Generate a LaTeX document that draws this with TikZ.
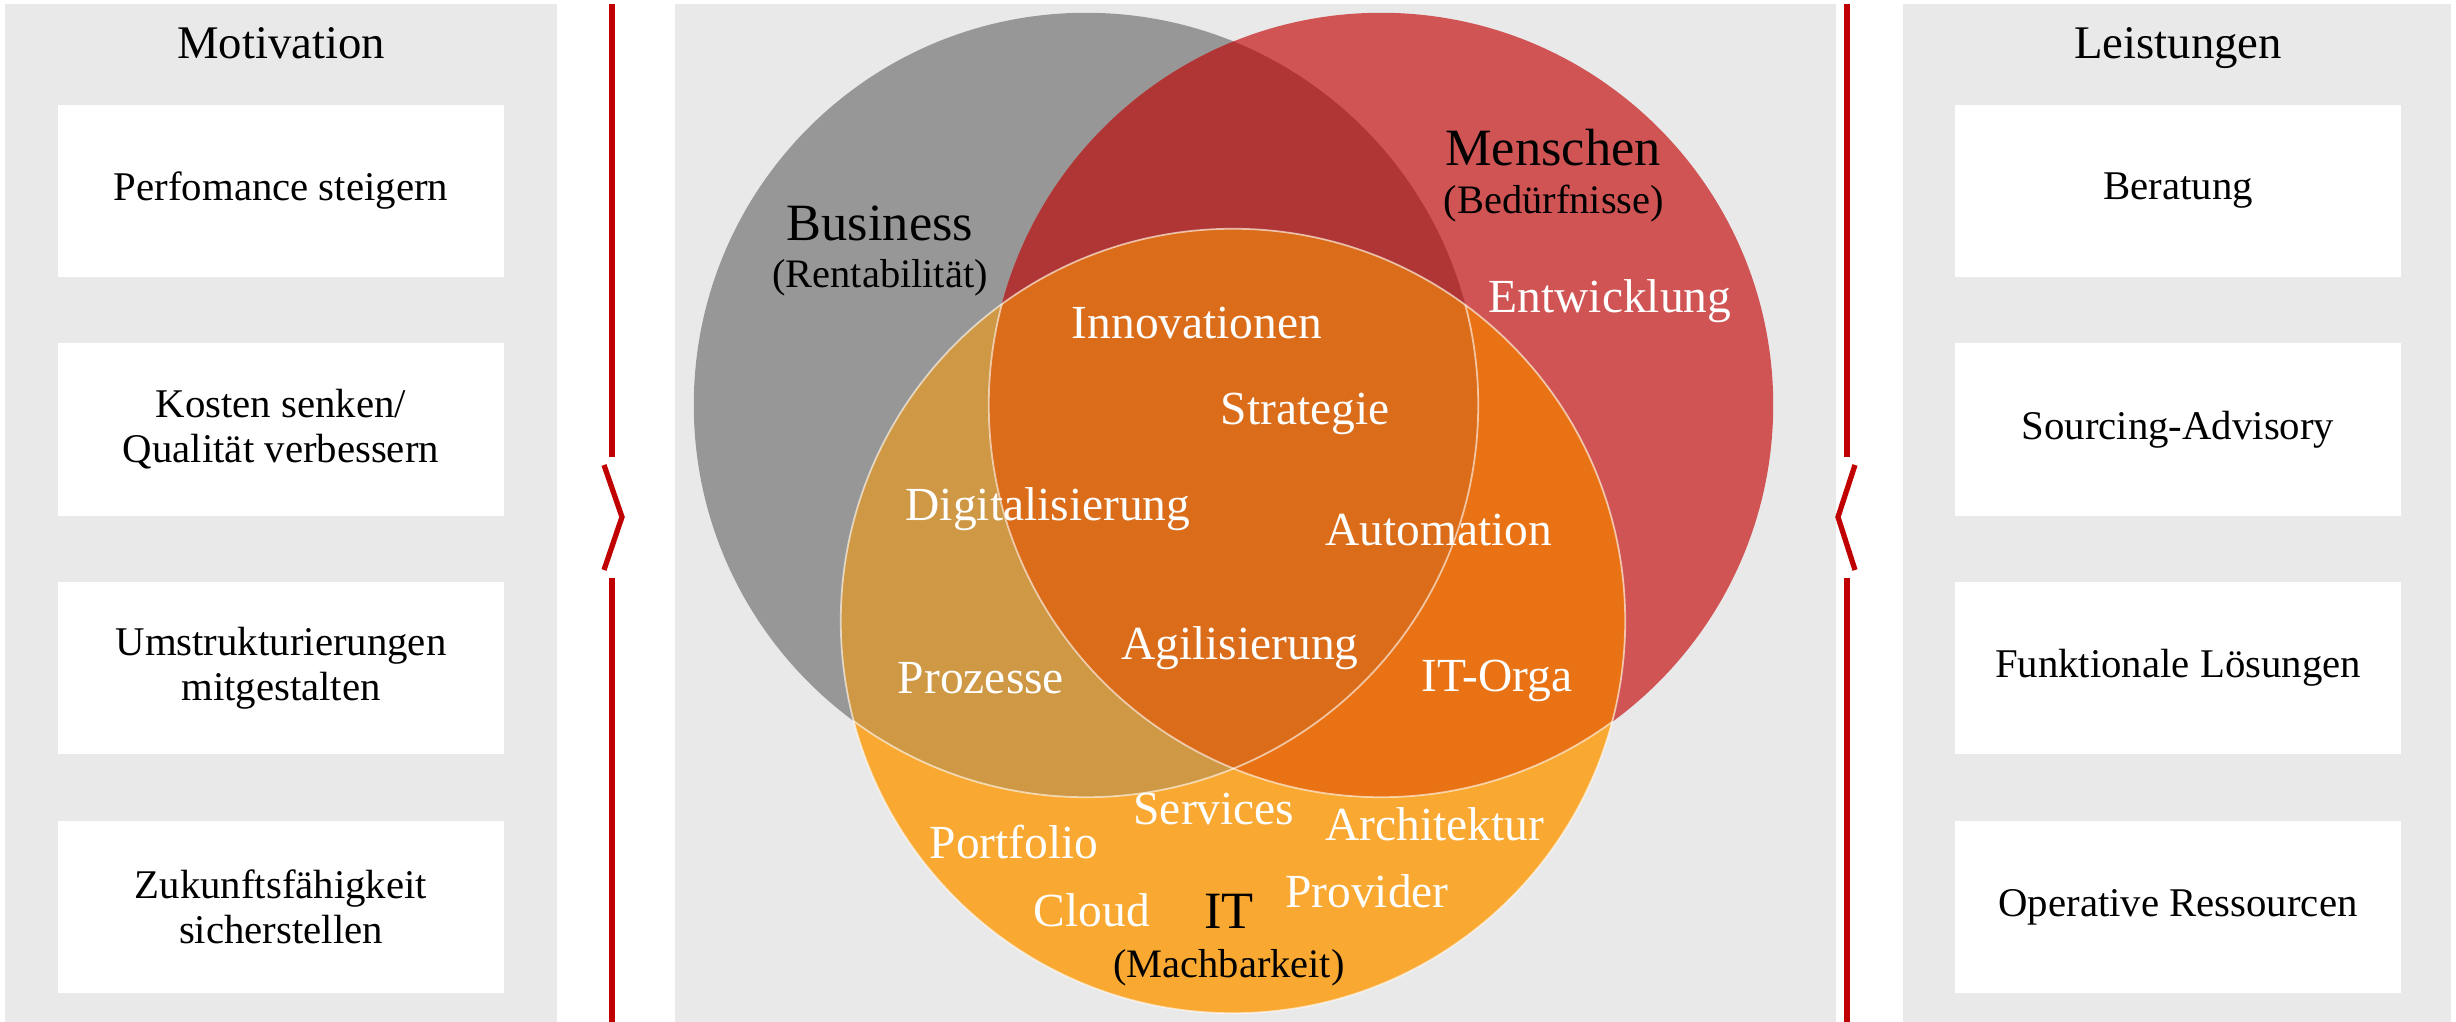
\documentclass[tikz,border=0pt]{standalone}
\usepackage{fontspec}
\setmainfont{Liberation Serif}
\usepackage{tikz}

\definecolor{panelgray}{HTML}{E9E9E9}
\definecolor{sepred}{HTML}{C00000}
\definecolor{bizgray}{HTML}{979797}
\definecolor{menred}{HTML}{D05454}
\definecolor{itorange}{HTML}{F9A932}
\definecolor{bizmen}{HTML}{B03535}
\definecolor{bizit}{HTML}{CF9845}
\definecolor{menit}{HTML}{E97314}
\definecolor{allthree}{HTML}{DA6C1A}

\newcommand\fntHead{\fontsize{13.3}{15}\selectfont}
\newcommand\fntBox{\fontsize{11.6}{12.8}\selectfont}
\newcommand\fntTitle{\fontsize{14.9}{17}\selectfont}
\newcommand\fntSub{\fontsize{11.5}{13}\selectfont}
\newcommand\fntLabel{\fontsize{13.5}{15}\selectfont}

\tikzset{
  paneltitle/.style={anchor=base, font=\fntHead},
  infobox/.style={fill=white, minimum width=4.46cm, minimum height=1.72cm,
    inner sep=0pt, align=center, font=\fntBox},
  sepline/.style={draw=sepred, line width=1.7pt},
  septip/.style={draw=sepred, line width=1.5pt, line join=miter},
  circtitle/.style={anchor=base, font=\fntTitle, text=black},
  circsub/.style={anchor=base, font=\fntSub, text=black},
  circlabel/.style={anchor=base, font=\fntLabel, text=white},
}

\def\cirBiz{(1086,405) circle [radius=3.92cm]}
\def\cirMen{(1381,405) circle [radius=3.92cm]}
\def\cirIT{(1233,621) circle [radius=3.92cm]}

\begin{document}
\begin{tikzpicture}[x=0.01cm, y=-0.01cm]
\useasboundingbox (0,0) rectangle (2456,1022);

% grey panels
\fill[panelgray] (5,4) rectangle (557,1022);
\fill[panelgray] (675,4) rectangle (1836,1022);
\fill[panelgray] (1903,4) rectangle (2451,1022);

% left panel: Motivation
\node[paneltitle] (motiv) at (281,59) {Motivation};
\node[infobox] (perf) at (281,191) {Perfomance steigern};
\node[infobox] (kost) at (281,429.5) {Kosten senken/\\Qualität verbessern};
\node[infobox] (umst) at (281,668) {Umstrukturierungen\\mitgestalten};
\node[infobox] (zuk) at (281,907) {Zukunftsfähigkeit\\sicherstellen};

% right panel: Leistungen
\node[paneltitle] (leist) at (2178,59) {Leistungen};
\node[infobox] (ber) at (2178,191) {Beratung};
\node[infobox] (sour) at (2178,429.5) {Sourcing-Advisory};
\node[infobox] (funk) at (2178,668) {Funktionale Lösungen};
\node[infobox] (oper) at (2178,907) {Operative Ressourcen};

% red separators with chevrons
\draw[sepline] (612,4) -- (612,457);
\draw[sepline] (612,578) -- (612,1022);
\draw[septip] (604,465) -- (622,517) -- (604,570);
\draw[sepline] (1847,4) -- (1847,457);
\draw[sepline] (1847,578) -- (1847,1022);
\draw[septip] (1855,465) -- (1838,517) -- (1855,570);

% Venn circles, each region filled on its own
\fill[bizgray] \cirBiz;
\fill[menred] \cirMen;
\fill[itorange] \cirIT;
\begin{scope}
  \clip \cirBiz;
  \fill[bizmen] \cirMen;
  \fill[bizit] \cirIT;
\end{scope}
\begin{scope}
  \clip \cirMen;
  \fill[menit] \cirIT;
\end{scope}
\begin{scope}
  \clip \cirBiz;
  \clip \cirMen;
  \fill[allthree] \cirIT;
\end{scope}

% thin light outlines
\draw[white, opacity=0.6, line width=0.5pt] \cirIT;
\begin{scope}
  \clip \cirIT;
  \draw[white, opacity=0.6, line width=0.5pt] \cirBiz;
  \draw[white, opacity=0.6, line width=0.5pt] \cirMen;
\end{scope}

% circle titles
\node[circtitle] (biz) at (880,241) {Business};
\node[circsub] (bizsub) at (880,288) {(Rentabilität)};
\node[circtitle] (men) at (1553,166) {Menschen};
\node[circsub] (mensub) at (1554,214) {(Bedürfnisse)};
\node[circtitle] (it) at (1229,929) {IT};
\node[circsub] (itsub) at (1229,978) {(Machbarkeit)};

% labels inside the circles
\node[circlabel] (entw) at (1610,313) {Entwicklung};
\node[circlabel] (inno) at (1197,339) {Innovationen};
\node[circlabel] (strat) at (1305,425) {Strategie};
\node[circlabel] (digi) at (1048,521) {Digitalisierung};
\node[circlabel] (auto) at (1439,546) {Automation};
\node[circlabel] (agil) at (1240,660) {Agilisierung};
\node[circlabel] (proz) at (981,694) {Prozesse};
\node[circlabel] (orga) at (1497,692) {IT-Orga};
\node[circlabel] (serv) at (1214,825) {Services};
\node[circlabel] (arch) at (1435,841) {Architektur};
\node[circlabel] (port) at (1014,859) {Portfolio};
\node[circlabel] (prov) at (1367,908) {Provider};
\node[circlabel] (cloud) at (1092,927) {Cloud};

\end{tikzpicture}
\end{document}
